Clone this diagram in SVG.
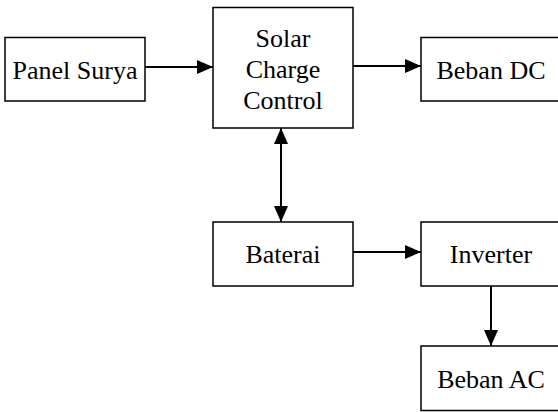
<svg xmlns="http://www.w3.org/2000/svg" width="558" height="412" viewBox="0 0 558 412">
<style>
.box{fill:#fff;stroke:#000;stroke-width:1.5}
.lbl{font-family:'Liberation Serif','DejaVu Serif',serif;font-size:26px;fill:#000;text-anchor:middle}
.con{stroke:#000;stroke-width:2;fill:none}
</style>
<defs>
<marker id="ah" markerUnits="userSpaceOnUse" markerWidth="16" markerHeight="14" refX="16" refY="7" orient="auto-start-reverse">
<path d="M0,0 L16,7 L0,14 Z" fill="#000"/>
</marker>
</defs>
<rect width="558" height="412" fill="#fff"/>
<g id="connectors">
<line class="con" x1="145" y1="67" x2="213" y2="67" marker-end="url(#ah)"/>
<line class="con" x1="353" y1="66" x2="421" y2="66" marker-end="url(#ah)"/>
<line class="con" x1="281" y1="128" x2="281" y2="222" marker-start="url(#ah)" marker-end="url(#ah)"/>
<line class="con" x1="353" y1="252" x2="421" y2="252" marker-end="url(#ah)"/>
<line class="con" x1="491" y1="286" x2="491" y2="346" marker-end="url(#ah)"/>
</g>
<g id="panel-surya">
<rect class="box" x="5" y="37.5" width="140" height="63.5"/>
<text class="lbl" x="75" y="79">Panel Surya</text>
</g>
<g id="solar-charge-control">
<rect class="box" x="213" y="7.5" width="140" height="120.5"/>
<text class="lbl" x="283" y="47">Solar</text>
<text class="lbl" x="283" y="78">Charge</text>
<text class="lbl" x="283" y="109">Control</text>
</g>
<g id="beban-dc">
<rect class="box" x="421" y="37.5" width="140" height="63.5"/>
<text class="lbl" x="491" y="79">Beban DC</text>
</g>
<g id="baterai">
<rect class="box" x="213" y="222" width="140" height="64"/>
<text class="lbl" x="283" y="263">Baterai</text>
</g>
<g id="inverter">
<rect class="box" x="421" y="222" width="140" height="64"/>
<text class="lbl" x="491" y="263">Inverter</text>
</g>
<g id="beban-ac">
<rect class="box" x="421" y="346" width="140" height="64.5"/>
<text class="lbl" x="491" y="388">Beban AC</text>
</g>
</svg>
